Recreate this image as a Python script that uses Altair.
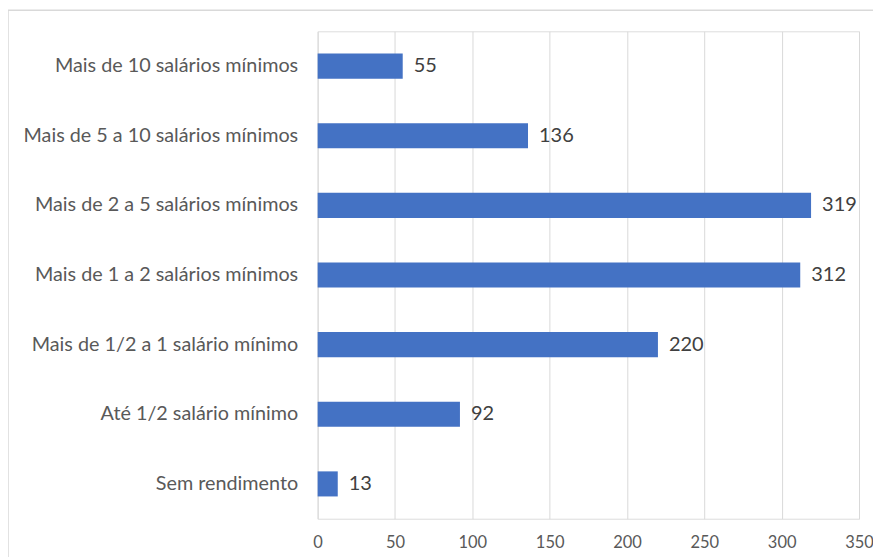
import altair as alt
import pandas as pd

categories = [
    "Mais de 10 salários mínimos",
    "Mais de 5 a 10 salários mínimos",
    "Mais de 2 a 5 salários mínimos",
    "Mais de 1 a 2 salários mínimos",
    "Mais de 1/2 a 1 salário mínimo",
    "Até 1/2 salário mínimo",
    "Sem rendimento",
]
values = [55, 136, 319, 312, 220, 92, 13]
x_ticks = [0, 50, 100, 150, 200, 250, 300, 350]

df = pd.DataFrame({"cat": categories, "val": values})

W, H = 542, 488
FONT = "Lato"
TXT = "#595959"

y_enc = alt.Y("cat:N", sort=categories, title=None,
              scale=alt.Scale(paddingInner=0.64, paddingOuter=0.32),
              axis=alt.Axis(labelFontSize=19.8, labelColor=TXT, labelFont=FONT,
                            labelPadding=20, ticks=False, domain=False, grid=False,
                            labelLimit=400))
x_enc = alt.X("val:Q", title=None,
              scale=alt.Scale(domain=[0, 350], nice=False),
              axis=alt.Axis(values=x_ticks, labelFontSize=16.5, labelColor=TXT,
                            labelFont=FONT, ticks=False, domain=False,
                            labelFlush=False,
                            grid=True, gridColor="#d9d9d9", gridWidth=1,
                            labelPadding=16))

border = alt.Chart(pd.DataFrame({"a": [0]})).mark_rect(
    fill=None, stroke="#d9d9d9", strokeWidth=1.5
).encode(x=alt.value(-310), x2=alt.value(W + 40), y=alt.value(-21), y2=alt.value(H + 60))

bars = alt.Chart(df).mark_bar(color="#4472C4").encode(x=x_enc, y=y_enc)
labels = alt.Chart(df).mark_text(
    align="left", baseline="middle", dx=11, fontSize=20, font=FONT, color="#404040"
).encode(x="val:Q", y=alt.Y("cat:N", sort=categories), text="val:Q")

chart = alt.layer(border, bars, labels).properties(
    width=W, height=H,
    autosize=alt.AutoSizeParams(type="none"),
    padding={"left": 310, "top": 23, "right": 14, "bottom": 38},
).configure_view(stroke=None).configure(background="white")

chart.save("out.html", embed_options={"renderer": "svg", "actions": False})
